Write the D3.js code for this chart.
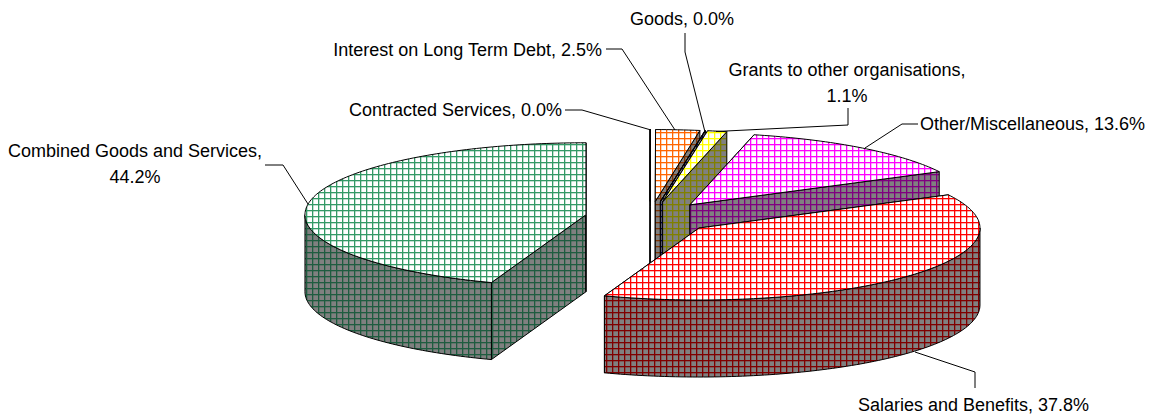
<!DOCTYPE html>
<html>
<head>
<meta charset="utf-8">
<script src="https://cdnjs.cloudflare.com/ajax/libs/d3/7.8.5/d3.min.js"></script>
<style>
html,body{margin:0;padding:0;background:#fff}
svg{display:block}
text{font-family:"Liberation Sans",Arial,sans-serif;font-size:18px;fill:#000}
</style>
</head>
<body>
<svg id="chart" width="1150" height="415"></svg>
<script>
const categories = ["Contracted Services","Interest on Long Term Debt","Goods","Grants to other organisations","Other/Miscellaneous","Salaries and Benefits","Combined Goods and Services"];
const values = [0.02,2.5,0.02,1.1,13.6,37.8,44.2];
const topColors = ["#000080","#ff6600","#000080","#ffff00","#ff00ff","#ff0000","#339966"];
const wallColors = ["#000040","#803300","#000040","#808000","#800080","#800000","#1f5c40"];

// layout
const cx=650, cy=217.5, rx=281, ry=72, depth=77, explodeX=65, explodeY=16, pitch=6;
const labelLayout = [
 {lines:[0],x:562,y:116,anchor:"end",leader:[[565,110],[582,110],[651,130]]},
 {lines:[0],x:602,y:56,anchor:"end",leader:[[606,49],[622,49],[675,130]]},
 {lines:[0],x:682,y:25,anchor:"middle",leader:[[685,33],[685,52],[705,132]]},
 {lines:[1],x:847,y:76,anchor:"middle",leader:[[848,108],[848,125],[716,131.5]]},
 {lines:[0],x:1145,y:130,anchor:"end",leader:[[918,124],[902,124],[865,148]]},
 {lines:[0],x:973.5,y:411,anchor:"middle",leader:[[915,352],[975,372],[975,388]]},
 {lines:[1],x:135,y:157,anchor:"middle",leader:[[265,165],[283,165],[308,204]]}
];
const fmt = d3.format(".1f");
const svg = d3.select("#chart");
const defs = svg.append("defs");

function addPattern(id,bg,line){
  const p = defs.append("pattern").attr("id",id).attr("patternUnits","userSpaceOnUse")
    .attr("width",pitch).attr("height",pitch);
  p.append("rect").attr("width",pitch).attr("height",pitch).attr("fill",bg);
  p.append("rect").attr("y",1).attr("width",pitch).attr("height",1).attr("fill",line).attr("opacity",0.3);
  p.append("rect").attr("x",1).attr("width",1).attr("height",pitch).attr("fill",line).attr("opacity",0.3);
  p.append("rect").attr("width",pitch).attr("height",1).attr("fill",line);
  p.append("rect").attr("width",1).attr("height",pitch).attr("fill",line);
}
topColors.forEach((c,i)=>{
  addPattern("top"+i,"#fff",c);
  addPattern("wall"+i,"#808080",wallColors[i]);
});

const pie = d3.pie().sort(null).value(d=>d)(values);

const line = d3.line();
function pt(a,o,dz=0){return [o.x+rx*Math.sin(a),o.y-ry*Math.cos(a)+dz];}
function arcPts(a0,a1,o,dz=0){
  const n=Math.max(2,Math.ceil((a1-a0)/0.02));
  return d3.range(n+1).map(i=>pt(a0+(a1-a0)*i/n,o,dz));
}
const g = svg.append("g");
pie.forEach((s,i)=>{
  const mid=(s.startAngle+s.endAngle)/2;
  const o={x:cx+explodeX*Math.sin(mid),y:cy-explodeY*Math.cos(mid)};
  const sl=g.append("g").attr("class","slice").attr("data-name",categories[i]);
  const style=p=>p.attr("stroke","#000").attr("stroke-width",1).attr("stroke-linejoin","round");
  // cut faces
  [s.startAngle,s.endAngle].forEach(a=>{
    const e=pt(a,o);
    style(sl.append("path").attr("fill",`url(#wall${i})`)
      .attr("d",line([[o.x,o.y],e,[e[0],e[1]+depth],[o.x,o.y+depth]])+"Z"));
  });
  // outer wall (front half only)
  const a0=Math.max(s.startAngle,Math.PI/2), a1=Math.min(s.endAngle,3*Math.PI/2);
  if(a1>a0){
    const up=arcPts(a0,a1,o), dn=arcPts(a0,a1,o,depth).reverse();
    style(sl.append("path").attr("fill",`url(#wall${i})`).attr("d",line(up.concat(dn))+"Z"));
  }
  // top
  style(sl.append("path").attr("fill",`url(#top${i})`)
    .attr("d",line([[o.x,o.y]].concat(arcPts(s.startAngle,s.endAngle,o)))+"Z"));
});

// leaders and labels
labelLayout.forEach((l,i)=>{
  svg.append("path").attr("fill","none").attr("stroke","#000").attr("stroke-width",1)
    .attr("d",line(l.leader));
  const txt=categories[i]+","+(l.lines[0]?"":" "+fmt(values[i])+"%");
  svg.append("text").attr("x",l.x).attr("y",l.y).attr("text-anchor",l.anchor).text(txt);
  if(l.lines[0]) svg.append("text").attr("x",l.x).attr("y",l.y+26).attr("text-anchor",l.anchor).text(fmt(values[i])+"%");
});
</script>
</body>
</html>
